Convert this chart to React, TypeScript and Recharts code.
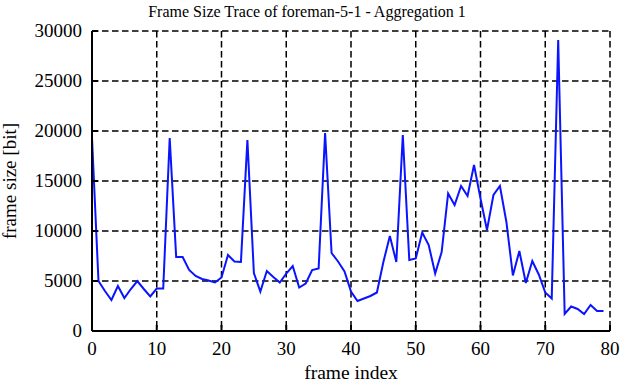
import { LineChart, Line, XAxis, YAxis, CartesianGrid } from 'recharts'

const frameIndex = Array.from({ length: 80 }, (_, i) => i)

const frameSize = [
  19300, 5000, 4000, 3100, 4500, 3300, 4200, 5000, 4200, 3450,
  4250, 4250, 19300, 7400, 7400, 6100, 5500, 5200, 5050, 4850,
  5350, 7600, 6950, 6900, 19100, 5800, 3950, 6000, 5400, 4850,
  5750, 6500, 4350, 4750, 6100, 6250, 19800, 7800, 6950, 5950,
  3950, 3000, 3250, 3500, 3850, 6900, 9500, 6900, 19600, 7100,
  7250, 9850, 8600, 5750, 7900, 13750, 12600, 14500, 13500, 16600,
  13250, 10100, 13600, 14500, 10900, 5550, 8000, 4800, 7000, 5650,
  3850, 3250, 29100, 1700, 2450, 2200, 1700, 2600, 2000, 2000,
]

const xTicks = [0, 10, 20, 30, 40, 50, 60, 70, 80]
const yTicks = [0, 5000, 10000, 15000, 20000, 25000, 30000]

const data = frameIndex.map((i) => ({ frame: i, size: frameSize[i] }))

const serif = { fontFamily: 'Liberation Serif', fill: '#000' }

const XTick = (props: any) => (
  <text x={props.x} y={props.y} dy={13} textAnchor="middle" fontSize={19} style={serif}>
    {props.payload.value}
  </text>
)

const YTick = (props: any) => (
  <text x={props.x} y={props.y} dy={6} textAnchor="end" fontSize={19} style={serif}>
    {props.payload.value}
  </text>
)

export default function App() {
  return (
    <div
      style={{
        position: 'absolute',
        left: 0,
        top: 0,
        width: 621,
        height: 382,
        background: '#fff',
        fontFamily: 'Liberation Serif',
      }}
    >
      <div
        style={{
          position: 'absolute',
          left: 0,
          top: 2,
          width: 614,
          textAlign: 'center',
          fontSize: 16,
          lineHeight: '20px',
          color: '#000',
        }}
      >
        Frame Size Trace of foreman-5-1 - Aggregation 1
      </div>
      <LineChart width={621} height={382} data={data} margin={{ top: 31, right: 11, bottom: 0, left: 0 }}>
        <CartesianGrid stroke="#000" strokeWidth={1.5} strokeDasharray="6.5 3.5" />
        <XAxis
          dataKey="frame"
          type="number"
          domain={[0, 80]}
          ticks={xTicks}
          height={51}
          stroke="#000"
          strokeWidth={2}
          tickSize={-6}
          tickMargin={17}
          tick={XTick}
          label={{
            content: () => (
              <text x={351} y={379} textAnchor="middle" fontSize={19.5} style={serif}>
                frame index
              </text>
            ),
          }}
        />
        <XAxis
          xAxisId="top"
          orientation="top"
          type="number"
          domain={[0, 80]}
          ticks={xTicks}
          height={0}
          stroke="#000"
          strokeWidth={2}
          tickSize={-6}
          tick={false}
        />
        <YAxis
          type="number"
          domain={[0, 30000]}
          ticks={yTicks}
          width={92}
          stroke="#000"
          strokeWidth={2}
          tickSize={-6}
          tickMargin={16}
          tick={YTick}
          label={{
            content: () => (
              <text
                x={16}
                y={181}
                transform="rotate(-90 16 181)"
                textAnchor="middle"
                fontSize={19}
                style={serif}
              >
                frame size [bit]
              </text>
            ),
          }}
        />
        <YAxis
          yAxisId="right"
          orientation="right"
          type="number"
          domain={[0, 30000]}
          ticks={yTicks}
          width={0}
          stroke="#000"
          strokeWidth={2}
          tickSize={-6}
          tick={false}
        />
        <Line
          type="linear"
          dataKey="size"
          stroke="#0a14ff"
          strokeWidth={2}
          dot={false}
          isAnimationActive={false}
        />
      </LineChart>
    </div>
  )
}
